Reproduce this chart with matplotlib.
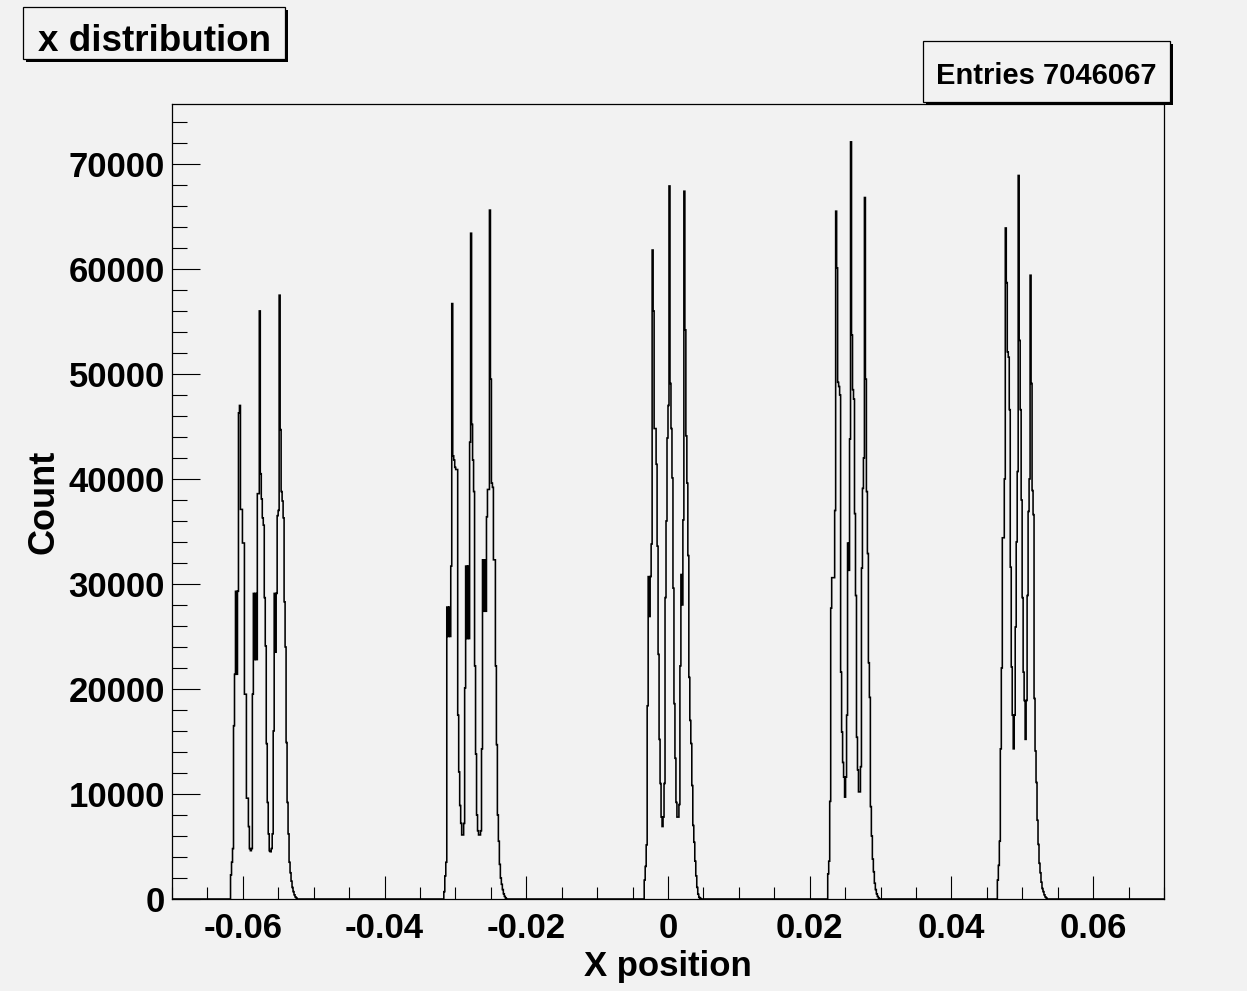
import numpy as np
import matplotlib
matplotlib.use('Agg')
import matplotlib.pyplot as plt
from matplotlib.patches import Rectangle
from matplotlib.ticker import MultipleLocator, FixedLocator, FixedFormatter

plt.rcParams['font.family'] = ['Liberation Sans', 'DejaVu Sans']
plt.rcParams['font.weight'] = 'bold'

W, H = 1247, 991
bg = '#f2f2f2'

# histogram binning: 1000 bins over [-0.07, 0.07]
n_bins = 1000
x_lo, x_hi = -0.07, 0.07

# bin contents of the five clusters (three peaks each), with the first bin of each
start_bins = [59, 274, 476, 661, 832]
cluster_1 = [2300, 3500, 4800, 16500, 21400, 29300, 21400, 29300, 46300, 47000,
             37100, 37100, 33900, 33900, 19500, 19500, 9600, 9600, 6900, 4800,
             4600, 4800, 19500, 29100, 22800, 29100, 22800, 38600, 38600, 56000,
             40500, 38100, 36300, 35600, 28700, 24100, 14800, 9200, 6200, 4600,
             4500, 4800, 6200, 16000, 29100, 23500, 29100, 36500, 37000, 57500,
             44700, 38800, 37900, 36300, 28300, 24000, 14900, 9200, 6200, 3500,
             2500, 1700, 1100, 700, 400, 200, 100]
cluster_2 = [700, 2200, 3500, 27800, 25000, 27800, 25000, 31700, 56700, 42200,
             41800, 41100, 40900, 40900, 17500, 12100, 8900, 7200, 6100, 6100,
             7200, 20100, 31700, 24800, 31700, 24800, 43500, 63400, 45200, 41800,
             38800, 22200, 13800, 8000, 6500, 6100, 6100, 6500, 14300, 32300,
             27400, 32300, 27400, 36400, 39000, 39000, 65600, 49500, 39600, 39200,
             32300, 32300, 22200, 14700, 8000, 5500, 3300, 2000, 1400, 900,
             500, 250, 100]
cluster_3 = [1800, 3100, 5150, 18400, 30700, 26900, 30700, 33800, 61800, 56000,
             44800, 44800, 41400, 33600, 23300, 15200, 11000, 7800, 6900, 7800,
             11000, 28700, 36000, 43900, 47000, 67900, 49100, 44800, 40100, 29600,
             18600, 13400, 9200, 7800, 7800, 9000, 22200, 30900, 28000, 36100,
             67400, 54200, 44100, 39600, 32700, 21100, 17000, 14800, 10800, 7000,
             5400, 3600, 2200, 1100, 450, 150, 80]
cluster_4 = [2400, 3600, 9300, 27700, 30600, 30600, 30600, 37000, 65500, 60100,
             49200, 48800, 48000, 21600, 15900, 13000, 11600, 9700, 11600, 17500,
             33900, 31300, 43800, 72100, 53700, 48500, 47600, 36700, 28900, 15400,
             12300, 10200, 10200, 12600, 31500, 39100, 42000, 66800, 49500, 38800,
             32900, 22500, 19200, 8800, 6000, 3800, 2600, 1500, 900, 500,
             250, 100]
cluster_5 = [1800, 3200, 5500, 14300, 22000, 34400, 34400, 40000, 63900, 58700,
             52100, 51600, 46600, 31600, 22100, 17500, 14300, 17500, 25900, 34000,
             40700, 68900, 53200, 46600, 38000, 28700, 21600, 18900, 15200, 18900,
             28900, 36900, 40000, 59400, 49100, 38900, 36600, 19100, 14100, 11100,
             7500, 5200, 3400, 2500, 1600, 1000, 700, 400, 200, 100]
clusters = [cluster_1, cluster_2, cluster_3, cluster_4, cluster_5]

x_ticks = [-0.06, -0.04, -0.02, 0.0, 0.02, 0.04, 0.06]
x_tick_labels = ['-0.06', '-0.04', '-0.02', '0', '0.02', '0.04', '0.06']

title = 'x distribution'
n_entries = 7046067

counts = np.zeros(n_bins)
for s, c in zip(start_bins, clusters):
    counts[s:s + len(c)] = c
edges = np.linspace(x_lo, x_hi, n_bins + 1)

fig = plt.figure(figsize=(W / 100, H / 100), dpi=100, facecolor=bg)
ax = fig.add_axes([172 / W, 1 - 899 / H, (1164 - 172) / W, (899 - 104) / H])
ax.set_facecolor(bg)

ax.stairs(counts, edges, color='black', lw=1.15)
ax.set_xlim(x_lo, x_hi)
ax.set_ylim(0, 1.05 * counts.max())

# axis ticks, ROOT style (inward)
ax.xaxis.set_major_locator(FixedLocator(x_ticks))
ax.xaxis.set_major_formatter(FixedFormatter(x_tick_labels))
ax.xaxis.set_minor_locator(MultipleLocator(0.005))
ax.yaxis.set_major_locator(MultipleLocator(10000))
ax.yaxis.set_minor_locator(MultipleLocator(2000))
ax.yaxis.set_major_formatter(plt.FuncFormatter(lambda v, p: '%d' % v))

ax.tick_params(axis='x', which='major', direction='in', length=16.5, width=0.8,
               labelsize=25, pad=9)
ax.tick_params(axis='x', which='minor', direction='in', length=8.6, width=0.8)
ax.tick_params(axis='y', which='major', direction='in', length=20, width=0.8,
               labelsize=25, pad=5)
ax.tick_params(axis='y', which='minor', direction='in', length=10.8, width=0.8)
for sp in ax.spines.values():
    sp.set_linewidth(0.9)

ax.set_xlabel('X position', fontsize=25, fontweight='bold')
ax.xaxis.set_label_coords(0.5, -0.064)
ax.set_ylabel('Count', fontsize=26, fontweight='bold')
ax.yaxis.set_label_coords(-0.111, 0.5)


def px_box(x0, y0, x1, y1):
    # rectangle given in pixel coordinates measured from the top-left corner
    return (x0 / W, 1 - y1 / H), (x1 - x0) / W, (y1 - y0) / H


def shadow_box(x0, y0, x1, y1, off=3):
    xy, w, h = px_box(x0 + off, y0 + off, x1 + off, y1 + off)
    fig.add_artist(Rectangle(xy, w, h, transform=fig.transFigure,
                             facecolor='black', edgecolor='black', lw=0, zorder=5))
    xy, w, h = px_box(x0, y0, x1, y1)
    fig.add_artist(Rectangle(xy, w, h, transform=fig.transFigure,
                             facecolor=bg, edgecolor='black', lw=0.9, zorder=6))


# title pave
shadow_box(23, 7, 285, 59)
fig.text(154 / W, 1 - 51 / H, title, ha='center', va='baseline',
         fontsize=26.5, fontweight='bold', zorder=7)

# statistics box
shadow_box(923, 41, 1170, 102)
fig.text(1046 / W, 1 - 84 / H, 'Entries %d' % n_entries, ha='center', va='baseline',
         fontsize=21, fontweight='bold', zorder=7)

fig.savefig('out.png', dpi=100, facecolor=bg)
